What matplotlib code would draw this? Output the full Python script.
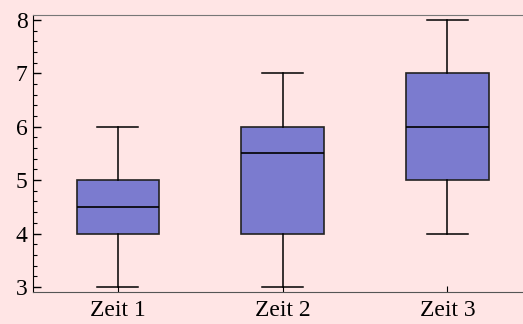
import matplotlib
matplotlib.use("Agg")
import matplotlib.pyplot as plt
from matplotlib.ticker import MultipleLocator

labels = ["Zeit 1", "Zeit 2", "Zeit 3"]
whisker_low = [3, 3, 4]
q1 = [4, 4, 5]
median = [4.5, 5.5, 6]
q3 = [5, 6, 7]
whisker_high = [6, 7, 8]

plt.rcParams["font.family"] = ["Liberation Serif", "DejaVu Serif"]

bg = "#FFE5E5"
fig = plt.figure(figsize=(5.23, 3.24), dpi=100, facecolor=bg)
ax = fig.add_axes([0.063, 0.099, 0.95, 0.855], facecolor=bg)

stats = [
    {"label": lab, "whislo": lo, "q1": a, "med": m, "q3": b, "whishi": hi, "fliers": []}
    for lab, lo, a, m, b, hi in zip(labels, whisker_low, q1, median, q3, whisker_high)
]
ax.bxp(
    stats,
    positions=[1, 2, 3],
    widths=0.5,
    patch_artist=True,
    showfliers=False,
    boxprops=dict(facecolor="#7B7BCF", edgecolor="#222222", linewidth=1.2),
    medianprops=dict(color="black", linewidth=1.2),
    whiskerprops=dict(color="black", linewidth=1.1),
    capprops=dict(color="black", linewidth=1.1),
    capwidths=0.25,
)

ax.set_xlim(0.485, 3.5)
ax.set_ylim(2.906, 8.094)
ax.yaxis.set_major_locator(MultipleLocator(1))
ax.yaxis.set_minor_locator(MultipleLocator(0.2))
ax.tick_params(axis="y", which="major", direction="in", length=6, width=1, labelsize=17, pad=4)
ax.tick_params(axis="y", which="minor", direction="in", length=3, width=0.8)
ax.tick_params(axis="x", direction="in", length=4, width=0.8, labelsize=17, pad=6)

ax.spines["left"].set_color("black")
ax.spines["bottom"].set_color("#555555")
ax.spines["top"].set_color("#777777")
ax.spines["right"].set_visible(False)

fig.savefig("out.png", dpi=100, facecolor=bg)
